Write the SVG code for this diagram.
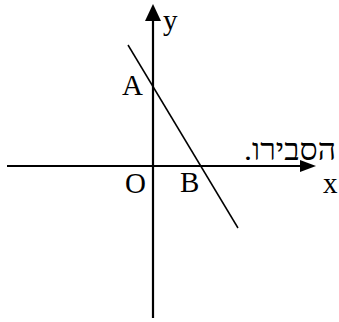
<svg xmlns="http://www.w3.org/2000/svg" width="339" height="322" viewBox="0 0 339 322">
<style>
.ax{stroke:#000;stroke-width:2.2;fill:none}
.ln{stroke:#000;stroke-width:1.5;fill:none}
.t{font-family:"Liberation Serif","Times New Roman",serif;font-size:29px;fill:#000}
.h{font-family:"Liberation Serif","DejaVu Serif",serif;font-size:30px;fill:#000}
</style>
<g id="connectors">
<line class="ax" x1="7" y1="166" x2="302" y2="166"/>
<polygon points="316,166 300,160 300,172" fill="#000"/>
<line class="ax" x1="153" y1="318" x2="153" y2="18"/>
<polygon points="153,4 145,21 161,21" fill="#000"/>
<line class="ln" x1="128" y1="45" x2="238" y2="228"/>
</g>
<g id="label-y"><text class="t" x="163" y="30">y</text></g>
<g id="label-A"><text class="t" x="122" y="95">A</text></g>
<g id="label-O"><text class="t" x="125" y="193">O</text></g>
<g id="label-B"><text class="t" x="180" y="192">B</text></g>
<g id="label-x"><text class="t" x="323" y="193">x</text></g>
<g id="label-heb"><text class="h" x="336" y="160" direction="rtl" unicode-bidi="embed" text-anchor="start" textLength="92" lengthAdjust="spacingAndGlyphs">הסבירו.</text></g>
</svg>
